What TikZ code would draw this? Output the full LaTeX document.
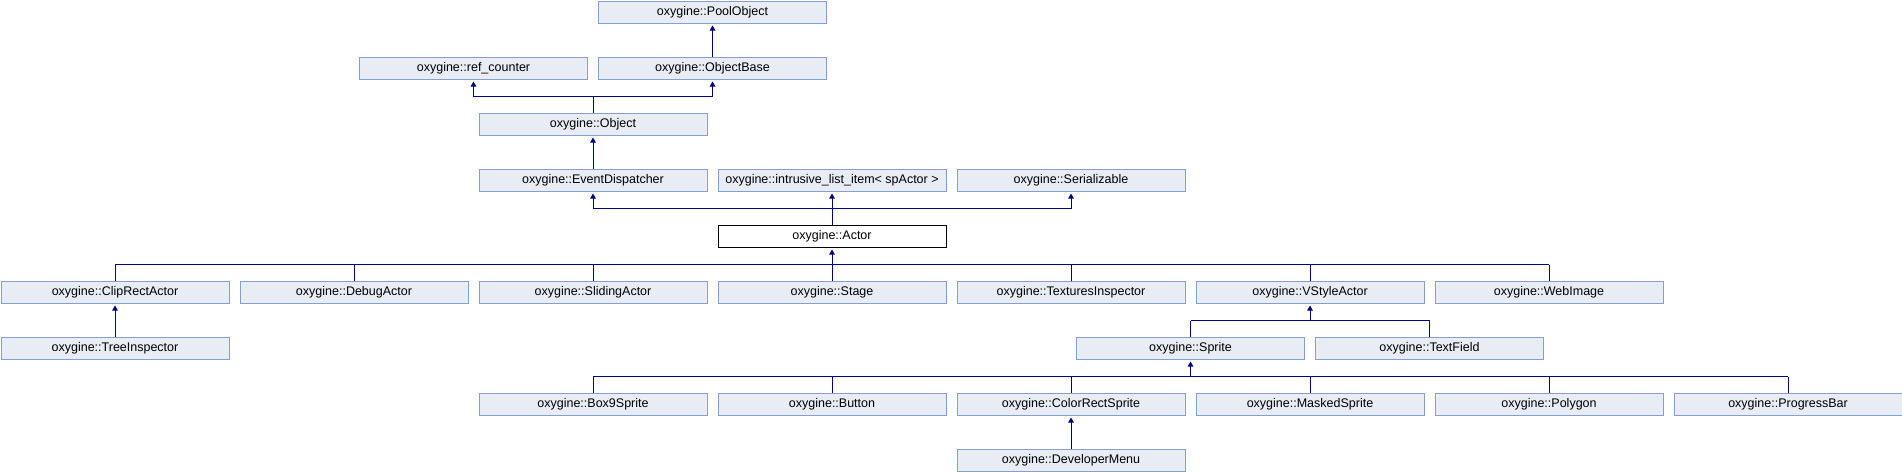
\documentclass[tikz,border=0pt]{standalone}
\usepackage{fontspec}
\setmainfont{Liberation Sans}
\usetikzlibrary{arrows.meta}
\definecolor{boxfill}{HTML}{E8ECF4}
\definecolor{boxline}{HTML}{84A0D0}
\definecolor{edgecol}{HTML}{000088}
\tikzset{
  cls/.style={draw=boxline, fill=boxfill, line width=1pt, minimum width=228pt, minimum height=22pt,
    inner sep=0pt, anchor=north west, font=\fontsize{12.5}{14}\selectfont},
  cur/.style={cls, draw=black, fill=white},
  link/.style={draw=edgecol, line width=1pt},
  inh/.style={link, -{Triangle[width=5.5pt,length=5pt]}, shorten >=2pt},
}
\newcommand{\bx}[5][cls]{\node[#1] (#2) at ({#3+0.5},{-(#4)-0.5}) {#5};}
\begin{document}
\begin{tikzpicture}[x=1pt,y=1pt]
\useasboundingbox (0,0) rectangle (1902,-472);
% row 1
\bx{pool}{597.5}{0}{oxygine::PoolObject}
% row 2
\bx{rc}{358.5}{56}{oxygine::ref\_counter}
\bx{ob}{597.5}{56}{oxygine::ObjectBase}
% row 3
\bx{obj}{478}{112}{oxygine::Object}
% row 4
\bx{ed}{478}{168}{oxygine::EventDispatcher}
\bx{ili}{717}{168}{oxygine::intrusive\_list\_item< spActor >}
\bx{ser}{956}{168}{oxygine::Serializable}
% row 5
\bx[cur]{actor}{717}{224}{oxygine::Actor}
% row 6
\bx{clip}{0}{280}{oxygine::ClipRectActor}
\bx{debug}{239}{280}{oxygine::DebugActor}
\bx{sliding}{478}{280}{oxygine::SlidingActor}
\bx{stage}{717}{280}{oxygine::Stage}
\bx{texins}{956}{280}{oxygine::TexturesInspector}
\bx{vstyle}{1195}{280}{oxygine::VStyleActor}
\bx{web}{1434}{280}{oxygine::WebImage}
% row 7
\bx{tree}{0}{336}{oxygine::TreeInspector}
\bx{sprite}{1075.5}{336}{oxygine::Sprite}
\bx{textfield}{1314.5}{336}{oxygine::TextField}
% row 8
\bx{box9}{478}{392}{oxygine::Box9Sprite}
\bx{button}{717}{392}{oxygine::Button}
\bx{colorrect}{956}{392}{oxygine::ColorRectSprite}
\bx{masked}{1195}{392}{oxygine::MaskedSprite}
\bx{polygon}{1434}{392}{oxygine::Polygon}
\bx{progress}{1673}{392}{oxygine::ProgressBar}
% row 9
\bx{devmenu}{956}{448}{oxygine::DeveloperMenu}

% junction levels
\coordinate (jA) at (0,-96.5);
\coordinate (jB) at (0,-208.5);
\coordinate (jC) at (0,-264.5);
\coordinate (jD) at (0,-320.5);
\coordinate (jE) at (0,-376.5);

% edges
\draw[inh] (ob.north) -- (pool.south);
\draw[link] (obj.north) -- (obj.north |- jA);
\draw[link] (rc.south |- jA) -- (ob.south |- jA);
\draw[inh] (rc.south |- jA) -- (rc.south);
\draw[inh] (ob.south |- jA) -- (ob.south);
\draw[inh] (ed.north) -- (obj.south);

\draw[link] (ed.south |- jB) -- (ser.south |- jB);
\draw[inh] (ed.south |- jB) -- (ed.south);
\draw[inh] (actor.north) -- (ili.south);
\draw[inh] (ser.south |- jB) -- (ser.south);

\draw[inh] (actor.south |- jC) -- (actor.south);
\draw[link] (clip.north |- jC) -- (web.north |- jC);
\foreach \n in {clip,debug,sliding,stage,texins,vstyle,web}
  \draw[link] (\n.north |- jC) -- (\n.north);

\draw[inh] (tree.north) -- (clip.south);

\draw[inh] (vstyle.south |- jD) -- (vstyle.south);
\draw[link] (sprite.north |- jD) -- (textfield.north |- jD);
\foreach \n in {sprite,textfield}
  \draw[link] (\n.north |- jD) -- (\n.north);

\draw[inh] (sprite.south |- jE) -- (sprite.south);
\draw[link] (box9.north |- jE) -- (progress.north |- jE);
\foreach \n in {box9,button,colorrect,masked,polygon,progress}
  \draw[link] (\n.north |- jE) -- (\n.north);

\draw[inh] (devmenu.north) -- (colorrect.south);
\end{tikzpicture}
\end{document}
